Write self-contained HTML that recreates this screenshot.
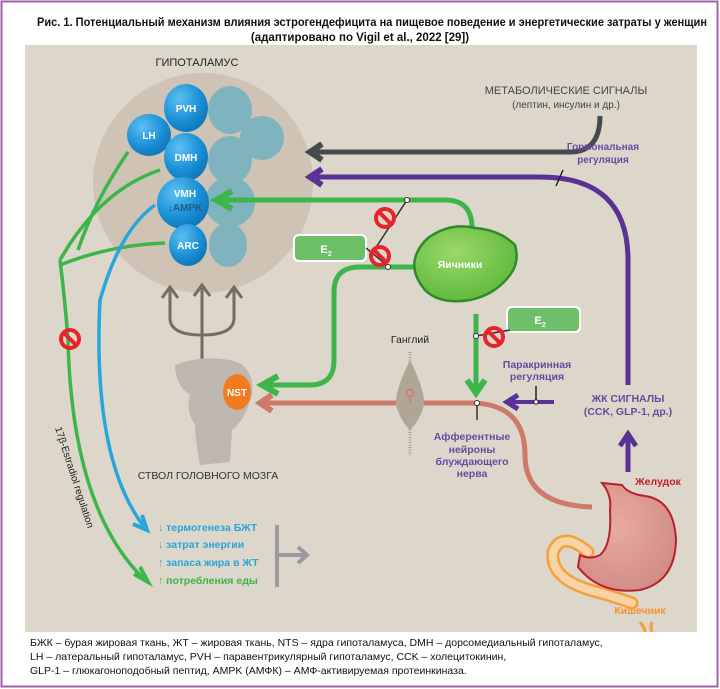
<!DOCTYPE html>
<html><head><meta charset="utf-8"><style>
body{margin:0;background:#fff;}
svg{display:block;font-family:"Liberation Sans",sans-serif;}
</style></head><body>
<svg width="720" height="689" viewBox="0 0 720 689">
<defs>
<radialGradient id="bl" cx="0.35" cy="0.3" r="0.8"><stop offset="0" stop-color="#5cc0f0"/><stop offset="0.6" stop-color="#1a8fd6"/><stop offset="1" stop-color="#0e6fb0"/></radialGradient>
<radialGradient id="ov" cx="0.4" cy="0.35" r="0.7"><stop offset="0" stop-color="#9ad86a"/><stop offset="1" stop-color="#5cb83a"/></radialGradient>
<radialGradient id="st" cx="0.4" cy="0.4" r="0.7"><stop offset="0" stop-color="#e8aaa0"/><stop offset="1" stop-color="#d08a85"/></radialGradient>
</defs>
<rect x="1.5" y="1.5" width="716" height="685" fill="#fff" stroke="#a45fae" stroke-width="2"/>
<text x="37" y="26" font-size="11.5" font-weight="bold" fill="#111" textLength="670" lengthAdjust="spacingAndGlyphs">Рис. 1. Потенциальный механизм влияния эстрогендефицита на пищевое поведение и энергетические затраты у женщин</text>
<text x="360" y="41" text-anchor="middle" font-size="11.5" font-weight="bold" fill="#111">(адаптировано по Vigil et al., 2022 [29])</text>
<rect x="25" y="45" width="672" height="587" fill="#ddd6cb"/>

<!-- hypothalamus -->
<text x="197" y="66" text-anchor="middle" font-size="11" fill="#222">ГИПОТАЛАМУС</text>
<ellipse cx="203" cy="183" rx="110" ry="110" fill="#cec3b5"/>
<g fill="#7fb4bf">
<ellipse cx="230" cy="110" rx="22" ry="24"/><ellipse cx="262" cy="138" rx="22" ry="22"/>
<ellipse cx="230" cy="160" rx="22" ry="24"/><ellipse cx="230" cy="202" rx="25" ry="25"/>
<ellipse cx="228" cy="245" rx="19" ry="22"/>
</g>
<g fill="url(#bl)">
<ellipse cx="186" cy="108" rx="22" ry="24"/><ellipse cx="149" cy="135" rx="22" ry="21"/>
<ellipse cx="186" cy="157" rx="22" ry="24"/><ellipse cx="183" cy="203" rx="26" ry="26"/>
<ellipse cx="188" cy="245" rx="19" ry="21"/>
</g>
<g fill="#fff" font-size="10" font-weight="bold" text-anchor="middle">
<text x="186" y="112">PVH</text><text x="149" y="139">LH</text><text x="186" y="161">DMH</text>
<text x="185" y="197">VMH</text><text x="188" y="249">ARC</text></g>
<text x="185" y="211" text-anchor="middle" font-size="10" font-weight="bold" fill="#1a5e8a">↓AMPK</text>

<!-- metabolic -->
<text x="566" y="94" text-anchor="middle" font-size="11" fill="#444">МЕТАБОЛИЧЕСКИЕ СИГНАЛЫ</text>
<text x="566" y="108" text-anchor="middle" font-size="10" fill="#444">(лептин, инсулин и др.)</text>
<path d="M600,116 Q600,152 570,152 L316,152" fill="none" stroke="#454a4e" stroke-width="5"/>
<path d="M322,144 L310,152 L322,160" fill="none" stroke="#454a4e" stroke-width="6"/>
<path d="M628,385 L628,260 Q628,177 540,177 L316,177" fill="none" stroke="#5a3296" stroke-width="5"/>
<path d="M322,169 L310,177 L322,185" fill="none" stroke="#5a3296" stroke-width="6"/>
<text x="603" y="150" text-anchor="middle" font-size="10" font-weight="bold" fill="#6a4aa0">Гормональная</text>
<text x="603" y="163" text-anchor="middle" font-size="10" font-weight="bold" fill="#6a4aa0">регуляция</text>
<line x1="563" y1="170" x2="556" y2="186" stroke="#222" stroke-width="1.5"/>

<!-- green to VMH -->
<path d="M222,200 L445,200 Q472,200 472,228" fill="none" stroke="#3cb54a" stroke-width="5"/>
<path d="M232,191 L216,200 L232,209" fill="none" stroke="#3cb54a" stroke-width="6"/>
<line x1="407" y1="200" x2="373" y2="252" stroke="#333" stroke-width="1.5"/>
<circle cx="407" cy="200" r="2.5" fill="#fff" stroke="#333"/>
<!-- E2 boxes -->
<rect x="294" y="235" width="72" height="26" rx="5" fill="#6dbf6a" stroke="#fff" stroke-width="2"/>
<text x="326" y="253" text-anchor="middle" font-size="11" font-weight="bold" fill="#fff">E<tspan font-size="7" dy="3">2</tspan></text>
<rect x="507" y="307" width="73" height="25" rx="5" fill="#6dbf6a" stroke="#fff" stroke-width="2"/>
<text x="540" y="324" text-anchor="middle" font-size="11" font-weight="bold" fill="#fff">E<tspan font-size="7" dy="3">2</tspan></text>
<!-- ovary line left -->
<path d="M418,267 L360,267 Q334,267 334,292 L334,360 Q334,385 310,385 L268,385" fill="none" stroke="#3cb54a" stroke-width="5"/>
<path d="M278,376 L262,385 L278,394" fill="none" stroke="#3cb54a" stroke-width="6"/>
<line x1="366" y1="248" x2="389" y2="267" stroke="#333" stroke-width="1.5"/>
<circle cx="388" cy="267" r="2.5" fill="#fff" stroke="#333"/>
<!-- ovary -->
<path d="M428,238 Q450,222 475,228 Q500,230 515,245 Q520,262 510,275 Q495,295 470,300 Q440,305 425,290 Q410,272 416,255 Q420,245 428,238 Z" fill="url(#ov)" stroke="#2f8a2a" stroke-width="2.5"/>
<text x="460" y="268" text-anchor="middle" font-size="10.5" font-weight="bold" fill="#fff">Яичники</text>
<!-- ovary down -->
<line x1="476" y1="314" x2="476" y2="390" stroke="#3cb54a" stroke-width="5"/>
<path d="M467,380 L476,393 L485,380" fill="none" stroke="#3cb54a" stroke-width="6"/>
<line x1="476" y1="336" x2="510" y2="330" stroke="#333" stroke-width="1.5"/>
<circle cx="476" cy="336" r="2.5" fill="#fff" stroke="#333"/>

<!-- prohibition signs -->
<g fill="none" stroke="#e8232a" stroke-width="4">
<circle cx="385" cy="218" r="9"/><line x1="379" y1="212" x2="391" y2="224"/>
<circle cx="380" cy="256" r="9"/><line x1="374" y1="250" x2="386" y2="262"/>
<circle cx="494" cy="337" r="9"/><line x1="488" y1="331" x2="500" y2="343"/>
</g>

<!-- red afferent -->
<path d="M266,403 L470,403 Q525,403 525,455 Q525,505 592,507" fill="none" stroke="#cd7a6a" stroke-width="5"/>
<path d="M272,395 L260,403 L272,411" fill="none" stroke="#cd7a6a" stroke-width="6"/>
<line x1="477" y1="403" x2="477" y2="420" stroke="#333" stroke-width="1.5"/>
<circle cx="477" cy="403" r="2.5" fill="#fff" stroke="#333"/>
<!-- ganglion -->
<text x="410" y="343" text-anchor="middle" font-size="10.5" fill="#222">Ганглий</text>
<line x1="410" y1="352" x2="410" y2="455" stroke="#aaa090" stroke-width="3" stroke-dasharray="1 1.5"/>
<path d="M410,360 Q425,390 424,405 Q420,420 410,430 Q400,420 396,405 Q395,390 410,360 Z" fill="#b0a696"/>
<circle cx="410" cy="393" r="3.5" fill="none" stroke="#d07a6a" stroke-width="1.5"/><line x1="410" y1="397" x2="410" y2="403" stroke="#d07a6a" stroke-width="1.5"/>
<g font-size="10.5" font-weight="bold" fill="#6a4aa0" text-anchor="middle">
<text x="472" y="440">Афферентные</text><text x="472" y="453">нейроны</text><text x="472" y="465">блуждающего</text><text x="472" y="477">нерва</text>
<text x="537" y="368">Паракринная</text><text x="537" y="380">регуляция</text>
<text x="628" y="402">ЖК СИГНАЛЫ</text><text x="628" y="415">(CCK, GLP-1, др.)</text>
</g>
<line x1="554" y1="402" x2="512" y2="402" stroke="#5a3296" stroke-width="4"/>
<path d="M518,395 L507,402 L518,409" fill="none" stroke="#5a3296" stroke-width="5"/>
<line x1="536" y1="386" x2="536" y2="402" stroke="#222" stroke-width="1.5"/><circle cx="536" cy="402" r="2.2" fill="#fff" stroke="#222"/>
<line x1="628" y1="472" x2="628" y2="438" stroke="#5a3296" stroke-width="5"/>
<path d="M620,446 L628,434 L636,446" fill="none" stroke="#5a3296" stroke-width="5"/>

<!-- intestine -->
<path d="M588,552 Q562,530 553,552 Q550,578 590,590 Q615,597 632,603" fill="none" stroke="#f5a03a" stroke-width="13" stroke-linecap="round"/>
<path d="M588,552 Q562,530 553,552 Q550,578 590,590 Q615,597 632,603" fill="none" stroke="#f8d3a6" stroke-width="8" stroke-linecap="round"/>
<!-- stomach -->
<path d="M602,483 Q612,495 610,510 Q612,545 600,555 Q590,560 580,555 L578,567 Q600,595 640,590 Q675,582 676,540 Q674,500 645,496 Q628,494 622,485 Z" fill="url(#st)" stroke="#b8202a" stroke-width="2"/>
<text x="658" y="485" text-anchor="middle" font-size="10.5" font-weight="bold" fill="#c8202a">Желудок</text>
<text x="640" y="614" text-anchor="middle" font-size="10.5" font-weight="bold" fill="#f5922a">Кишечник</text>
<path d="M640,622 Q645,628 645,632 M652,622 Q650,628 652,632" stroke="#f5a03a" stroke-width="3" fill="none"/>

<!-- trident -->
<g stroke="#7a6a62" stroke-width="3" fill="none">
<path d="M202,360 L202,288 M170,290 L170,318 Q170,335 202,335 Q234,335 234,318 L234,290"/>
<path d="M162,298 L170,287 L178,298 M194,296 L202,285 L210,296 M226,298 L234,287 L242,298"/>
</g>
<!-- brainstem -->
<path d="M175,365 Q200,355 230,360 Q255,365 252,395 Q245,420 232,430 L230,462 L200,465 Q195,440 195,425 Q185,410 190,395 Q175,385 175,365 Z" fill="#bdb7b0"/>
<ellipse cx="237" cy="392" rx="14" ry="18" fill="#f47a20"/>
<text x="237" y="396" text-anchor="middle" font-size="10" font-weight="bold" fill="#fff">NST</text>
<text x="208" y="479" text-anchor="middle" font-size="10.5" fill="#333">СТВОЛ ГОЛОВНОГО МОЗГА</text>

<!-- left curves -->
<g fill="none" stroke="#3cb54a" stroke-width="3.5">
<path d="M128,152 Q95,200 78,250"/>
<path d="M160,170 Q100,190 60,260"/>
<path d="M165,243 Q110,245 60,265"/>
<path d="M60,260 Q65,300 68,340 Q72,510 145,580"/>
</g>
<path d="M134,574 L148,582 L140,567" fill="none" stroke="#3cb54a" stroke-width="4"/>
<path d="M155,205 Q120,230 100,300 Q92,460 145,528" fill="none" stroke="#28a6dc" stroke-width="3.5"/>
<path d="M133,524 L147,530 L142,515" fill="none" stroke="#28a6dc" stroke-width="4"/>
<g fill="none" stroke="#e8232a" stroke-width="4"><circle cx="70" cy="339" r="9"/><line x1="64" y1="333" x2="76" y2="345"/></g>
<text transform="translate(55,428) rotate(72)" font-size="10" fill="#222">17β-Estradiol regulation</text>

<!-- outcomes -->
<g font-size="10.5" font-weight="bold">
<text x="158" y="531" fill="#28a6dc">↓ термогенеза БЖТ</text>
<text x="158" y="548" fill="#28a6dc">↓ затрат энергии</text>
<text x="158" y="566" fill="#28a6dc">↑ запаса жира в ЖТ</text>
<text x="158" y="584" fill="#3cb54a">↑ потребления еды</text>
</g>
<g stroke="#9a9a9e" stroke-width="4" fill="none">
<line x1="277" y1="525" x2="277" y2="587"/><line x1="277" y1="555" x2="305" y2="555"/>
<path d="M298,547 L307,555 L298,563"/>
</g>

<!-- footer -->
<g font-size="10.5" fill="#111">
<text x="30" y="646">БЖК – бурая жировая ткань, ЖТ – жировая ткань, NTS – ядра гипоталамуса, DMH – дорсомедиальный гипоталамус,</text>
<text x="30" y="660">LH – латеральный гипоталамус, PVH – паравентрикулярный гипоталамус, CCK – холецитокинин,</text>
<text x="30" y="674">GLP-1 – глюкагоноподобный пептид, AMPK (АМФК) – АМФ-активируемая протеинкиназа.</text>
</g>
</svg>
</body></html>
